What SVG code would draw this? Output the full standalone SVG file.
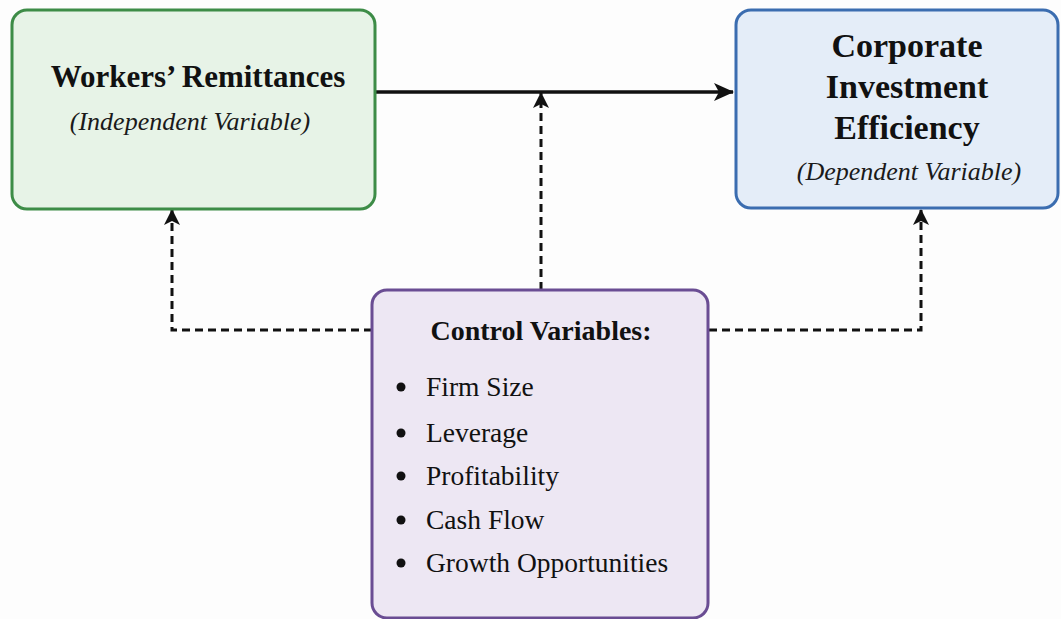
<svg xmlns="http://www.w3.org/2000/svg" width="1061" height="619" viewBox="0 0 1061 619">
  <defs>
    <marker id="head" viewBox="0 0 20 18" refX="19" refY="9" markerWidth="20" markerHeight="18" markerUnits="userSpaceOnUse" orient="auto">
      <path d="M0,0 L20,9 L0,18 L5,9 Z" fill="#111"/>
    </marker>
    <marker id="headSmall" viewBox="0 0 16 16" refX="15" refY="8" markerWidth="16" markerHeight="16" markerUnits="userSpaceOnUse" orient="auto">
      <path d="M0,0 L16,8 L0,16 L4,8 Z" fill="#111"/>
    </marker>
    <style>
      .box { stroke-width: 3; }
      .title { font-family: "Liberation Serif", "Times New Roman", serif; font-weight: bold; fill: #111; }
      .sub { font-family: "Liberation Serif", "Times New Roman", serif; font-style: italic; fill: #1a1a1a; font-size: 26px; }
      .item { font-family: "Liberation Serif", "Times New Roman", serif; fill: #111; font-size: 27.5px; }
      .solid { fill: none; stroke: #111; stroke-width: 3.5; }
      .dash { fill: none; stroke: #111; stroke-width: 3; stroke-dasharray: 8 5; }
    </style>
  </defs>

  <rect width="1061" height="619" fill="#fdfdfd"/>

  <!-- connectors -->
  <g id="connectors">
    <line class="solid" x1="376" y1="92" x2="733" y2="92" marker-end="url(#head)"/>
    <line class="dash" x1="541" y1="290" x2="541" y2="93" marker-end="url(#headSmall)"/>
    <polyline class="dash" points="372,330 172,330 172,210" marker-end="url(#headSmall)"/>
    <polyline class="dash" points="709,330 921,330 921,210" marker-end="url(#headSmall)"/>
  </g>

  <!-- independent variable -->
  <g id="node-remittances">
    <rect class="box" x="12" y="10" width="363" height="199" rx="15" fill="#e7f3e7" stroke="#3d8c47"/>
    <text class="title" x="198" y="87" font-size="31" text-anchor="middle">Workers’ Remittances</text>
    <text class="sub" x="190" y="130" text-anchor="middle">(Independent Variable)</text>
  </g>

  <!-- dependent variable -->
  <g id="node-efficiency">
    <rect class="box" x="736" y="10" width="322" height="198" rx="15" fill="#e4edf8" stroke="#3b6db0"/>
    <text class="title" x="907" y="57" font-size="34" text-anchor="middle">Corporate</text>
    <text class="title" x="907" y="98" font-size="34" text-anchor="middle">Investment</text>
    <text class="title" x="907" y="139" font-size="34" text-anchor="middle">Efficiency</text>
    <text class="sub" x="909" y="180" text-anchor="middle">(Dependent Variable)</text>
  </g>

  <!-- control variables -->
  <g id="node-controls">
    <rect class="box" x="372" y="290" width="336" height="328" rx="15" fill="#ede7f3" stroke="#6a4d93"/>
    <text class="title" x="541" y="340" font-size="28" text-anchor="middle">Control Variables:</text>
    <g fill="#111">
      <circle cx="401" cy="387" r="4.5"/>
      <circle cx="401" cy="433" r="4.5"/>
      <circle cx="401" cy="476" r="4.5"/>
      <circle cx="401" cy="520" r="4.5"/>
      <circle cx="401" cy="563" r="4.5"/>
    </g>
    <text class="item" x="426" y="396">Firm Size</text>
    <text class="item" x="426" y="442">Leverage</text>
    <text class="item" x="426" y="485">Profitability</text>
    <text class="item" x="426" y="529">Cash Flow</text>
    <text class="item" x="426" y="572">Growth Opportunities</text>
  </g>
</svg>
